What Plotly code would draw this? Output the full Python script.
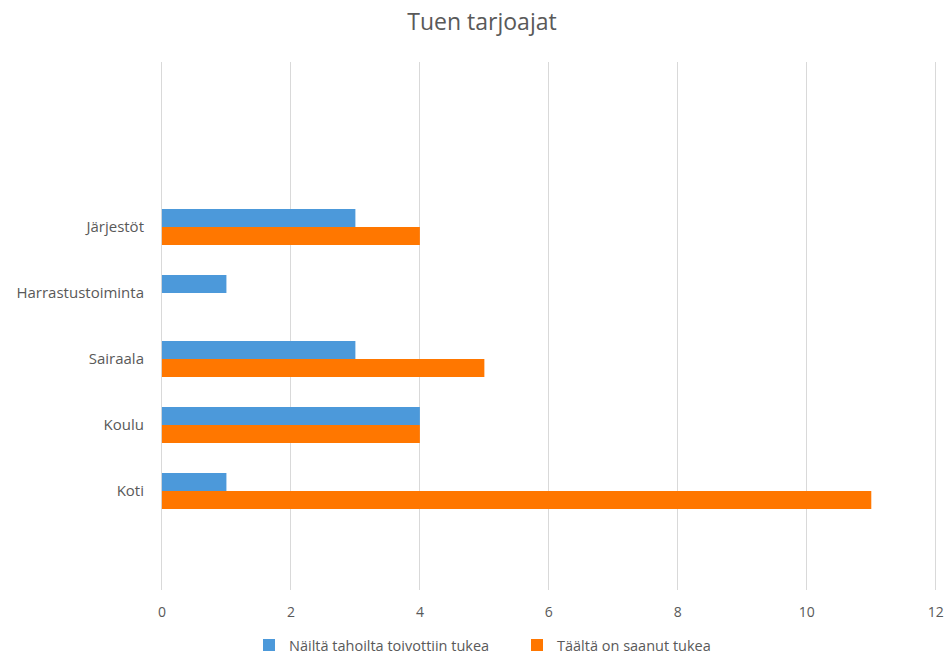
import plotly.graph_objects as go

# Support providers; blank entries keep the empty slots above and below the data
categories = [" ", "Koti", "Koulu", "Sairaala", "Harrastustoiminta", "Järjestöt", "  ", "   "]
wished = [None, 1, 4, 3, 1, 3, None, None]       # Näiltä tahoilta toivottiin tukea
received = [None, 11, 4, 5, None, 4, None, None]  # Täältä on saanut tukea
x_ticks = [0, 2, 4, 6, 8, 10, 12]

BLUE = "rgb(76,153,218)"
ORANGE = "rgb(255,119,0)"
TEXT = "#595959"
GRID = "#d9d9d9"
FONT = "Open Sans"

fig = go.Figure()
# Orange first so the blue bar sits above it within each group
fig.add_trace(go.Bar(
    y=categories, x=received, orientation="h",
    name="Täältä on saanut tukea", marker_color=ORANGE,
    marker_line_width=0, legendrank=2,
))
fig.add_trace(go.Bar(
    y=categories, x=wished, orientation="h",
    name="Näiltä tahoilta toivottiin tukea", marker_color=BLUE,
    marker_line_width=0, legendrank=1,
))

fig.update_layout(
    width=946, height=657,
    margin=dict(l=160, r=7, t=62, b=67, autoexpand=False),
    paper_bgcolor="white", plot_bgcolor="white",
    barmode="group", bargap=0.455, bargroupgap=0,
    font=dict(family=FONT, size=14, color=TEXT),
    title=dict(
        text="Tuen tarjoajat", x=482 / 946, xanchor="center",
        y=1 - 22 / 657, yanchor="middle", yref="container",
        font=dict(family=FONT, size=23, color=TEXT),
    ),
    showlegend=True,
    legend=dict(
        orientation="h", x=517 / 946, xanchor="center", xref="container",
        y=-0.074, yanchor="top", yref="paper",
        font=dict(family=FONT, size=14.5, color=TEXT),
        itemwidth=30, entrywidth=223, traceorder="normal",
    ),
    xaxis=dict(
        # a little padding keeps the 12 gridline off the plot edge
        range=[-0.03, 12.05], tickvals=x_ticks, showgrid=True,
        gridcolor=GRID, gridwidth=1,
        zeroline=True, zerolinecolor=GRID, zerolinewidth=1,
        showline=False, ticks="", ticklabelstandoff=12,
        tickfont=dict(family=FONT, size=14, color=TEXT),
    ),
    yaxis=dict(
        categoryorder="array", categoryarray=categories,
        showgrid=False, zeroline=False, showline=False, ticks="",
        ticklabelstandoff=15,
        tickfont=dict(family=FONT, size=15, color=TEXT),
    ),
)

fig.write_html("out.html")
